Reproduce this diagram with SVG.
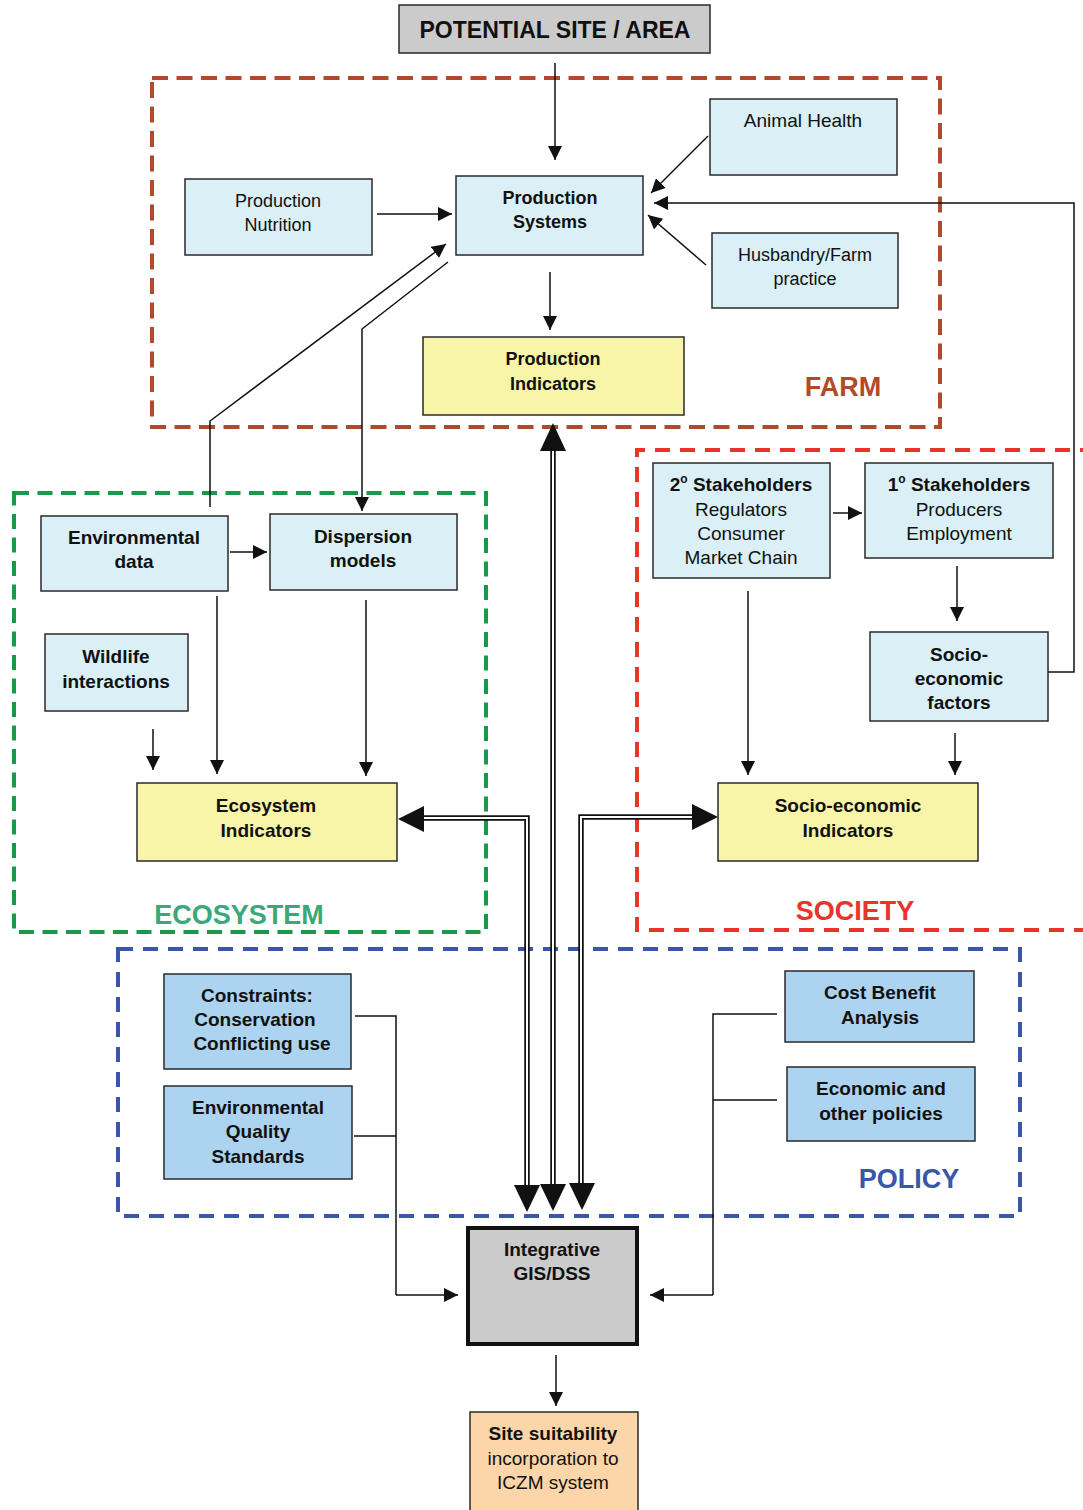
<svg xmlns="http://www.w3.org/2000/svg" width="1083" height="1510" viewBox="0 0 1083 1510">
<style>
text{font-family:"Liberation Sans",Arial,sans-serif;fill:#111;text-anchor:middle;font-size:19px}
.f18{font-size:18px}
.b{font-weight:bold}
.box{stroke:#2a2a2a;stroke-width:1.5}
.lb{fill:#daeff6}
.yl{fill:#f8f4a8}
.pb{fill:#acd3ef}
.ln{fill:none;stroke:#111;stroke-width:1.5}
.ar{fill:none;stroke:#111;stroke-width:1.5;marker-end:url(#ah)}
.dbo{fill:none;stroke:#111;stroke-width:5.5;stroke-linejoin:miter}
.dbi{fill:none;stroke:#fff;stroke-width:2}
.dash{fill:none;stroke-width:4}
.grp{font-weight:bold;font-size:27px}
</style>
<defs>
<marker id="ah" viewBox="0 0 10 10" refX="10" refY="5" markerWidth="14" markerHeight="14" markerUnits="userSpaceOnUse" orient="auto">
<path d="M0,0 L10,5 L0,10 z" fill="#111"/>
</marker>
</defs>

<!-- group borders -->
<g id="groups">
<rect class="dash" x="152" y="78" width="788" height="349" stroke="#b04a2a" stroke-dasharray="16,8.5"/>
<rect class="dash" x="14" y="493" width="472" height="439" stroke="#1a9a48" stroke-dasharray="15,8.5"/>
<path class="dash" d="M1095,450 H637 V930 H1095" stroke="#e8342a" stroke-dasharray="15,10"/>
<rect class="dash" x="118" y="949" width="902" height="267" stroke="#3a56a8" stroke-dasharray="15,10"/>
<text class="grp" x="843" y="396" style="fill:#b04a2a">FARM</text>
<text class="grp" x="239" y="924" style="fill:#3aa878">ECOSYSTEM</text>
<text class="grp" x="855" y="920" style="fill:#e8342a">SOCIETY</text>
<text class="grp" x="909" y="1188" style="fill:#3a56a8">POLICY</text>
</g>

<!-- connectors -->
<g id="connectors">
<line class="ar" x1="555" y1="63" x2="555" y2="160"/>
<line class="ar" x1="377" y1="214" x2="452" y2="214"/>
<line class="ar" x1="708" y1="136" x2="651" y2="193"/>
<line class="ar" x1="706" y1="265" x2="648" y2="215"/>
<path class="ar" d="M1048,672 H1074 V203 H654"/>
<line class="ar" x1="550" y1="272" x2="550" y2="330"/>
<path class="ar" d="M210,507 V421 L446,244"/>
<path class="ar" d="M448,262 L362,329 V511"/>
<line class="ar" x1="230" y1="552" x2="267" y2="552"/>
<line class="ar" x1="153" y1="729" x2="153" y2="770"/>
<line class="ar" x1="217" y1="596" x2="217" y2="774"/>
<line class="ar" x1="366" y1="600" x2="366" y2="776"/>
<line class="ar" x1="833" y1="513" x2="862" y2="513"/>
<line class="ar" x1="957" y1="566" x2="957" y2="621"/>
<line class="ar" x1="748" y1="591" x2="748" y2="775"/>
<line class="ar" x1="955" y1="733" x2="955" y2="775"/>
<path class="ln" d="M355,1016 H396 V1295"/>
<line class="ln" x1="354" y1="1136" x2="396" y2="1136"/>
<line class="ar" x1="396" y1="1295" x2="458" y2="1295"/>
<path class="ln" d="M777,1014 H713 V1295"/>
<line class="ln" x1="777" y1="1100" x2="713" y2="1100"/>
<line class="ar" x1="713" y1="1295" x2="650" y2="1295"/>
<line class="ar" x1="556" y1="1355" x2="556" y2="1406"/>
<!-- double-line arrows -->
<path class="dbo" d="M527,1188 V818 H421"/>
<path class="dbi" d="M527,1188 V818 H421"/>
<path class="dbo" d="M553,1188 V449"/>
<path class="dbi" d="M553,1188 V449"/>
<path class="dbo" d="M581,1188 V817 H694"/>
<path class="dbi" d="M581,1188 V817 H694"/>
<polygon points="398,819 424,806 424,832" fill="#111"/>
<polygon points="718,817 692,804 692,830" fill="#111"/>
<polygon points="553,423 540,451 566,451" fill="#111"/>
<polygon points="527,1212 514,1185 540,1185" fill="#111"/>
<polygon points="553,1211 540,1184 566,1184" fill="#111"/>
<polygon points="582,1210 569,1183 595,1183" fill="#111"/>
</g>

<g id="potential-site">
<rect class="box" x="399" y="5" width="311" height="48" fill="#cbcbcb"/>
<text class="b" x="555" y="38" style="font-size:23px">POTENTIAL SITE / AREA</text>
</g>
<g id="production-nutrition">
<rect class="box lb" x="185" y="179" width="187" height="76"/>
<text class="f18" x="278" y="207">Production</text><text class="f18" x="278" y="231">Nutrition</text>
</g>
<g id="production-systems">
<rect class="box lb" x="456" y="176" width="187" height="79"/>
<text class="b f18" x="550" y="204">Production</text><text class="b f18" x="550" y="228">Systems</text>
</g>
<g id="animal-health">
<rect class="box lb" x="710" y="99" width="187" height="76"/>
<text x="803" y="127">Animal Health</text>
</g>
<g id="husbandry">
<rect class="box lb" x="712" y="233" width="186" height="75"/>
<text class="f18" x="805" y="261">Husbandry/Farm</text><text class="f18" x="805" y="285">practice</text>
</g>
<g id="production-indicators">
<rect class="box yl" x="423" y="337" width="261" height="78"/>
<text class="b f18" x="553" y="365">Production</text><text class="b f18" x="553" y="390">Indicators</text>
</g>
<g id="environmental-data">
<rect class="box lb" x="41" y="516" width="187" height="75"/>
<text class="b" x="134" y="544">Environmental</text><text class="b" x="134" y="568">data</text>
</g>
<g id="dispersion-models">
<rect class="box lb" x="270" y="514" width="187" height="76"/>
<text class="b" x="363" y="543">Dispersion</text><text class="b" x="363" y="567">models</text>
</g>
<g id="wildlife">
<rect class="box lb" x="45" y="634" width="143" height="77"/>
<text class="b" x="116" y="663">Wildlife</text><text class="b" x="116" y="688">interactions</text>
</g>
<g id="ecosystem-indicators">
<rect class="box yl" x="137" y="783" width="260" height="78"/>
<text class="b" x="266" y="812">Ecosystem</text><text class="b" x="266" y="837">Indicators</text>
</g>
<g id="stakeholders-2">
<rect class="box lb" x="653" y="463" width="177" height="115"/>
<text x="741" y="491"><tspan class="b">2</tspan><tspan class="b" style="font-size:12px" dy="-8">o</tspan><tspan class="b" dy="8"> Stakeholders</tspan></text>
<text x="741" y="516">Regulators</text><text x="741" y="540">Consumer</text><text x="741" y="564">Market Chain</text>
</g>
<g id="stakeholders-1">
<rect class="box lb" x="865" y="463" width="188" height="95"/>
<text x="959" y="491"><tspan class="b">1</tspan><tspan class="b" style="font-size:12px" dy="-8">o</tspan><tspan class="b" dy="8"> Stakeholders</tspan></text>
<text x="959" y="516">Producers</text><text x="959" y="540">Employment</text>
</g>
<g id="socio-economic-factors">
<rect class="box lb" x="870" y="632" width="178" height="89"/>
<text class="b" x="959" y="661">Socio-</text><text class="b" x="959" y="685">economic</text><text class="b" x="959" y="709">factors</text>
</g>
<g id="socio-economic-indicators">
<rect class="box yl" x="718" y="783" width="260" height="78"/>
<text class="b" x="848" y="812">Socio-economic</text><text class="b" x="848" y="837">Indicators</text>
</g>
<g id="constraints">
<rect class="box pb" x="164" y="974" width="187" height="95"/>
<text class="b" x="257" y="1002">Constraints:</text><text class="b" x="255" y="1026">Conservation</text><text class="b" x="262" y="1050">Conflicting use</text>
</g>
<g id="eqs">
<rect class="box pb" x="164" y="1086" width="188" height="93"/>
<text class="b" x="258" y="1114">Environmental</text><text class="b" x="258" y="1138">Quality</text><text class="b" x="258" y="1163">Standards</text>
</g>
<g id="cost-benefit">
<rect class="box pb" x="785" y="971" width="189" height="71"/>
<text class="b" x="880" y="999">Cost Benefit</text><text class="b" x="880" y="1024">Analysis</text>
</g>
<g id="economic-policies">
<rect class="box pb" x="787" y="1067" width="188" height="74"/>
<text class="b" x="881" y="1095">Economic and</text><text class="b" x="881" y="1120">other policies</text>
</g>
<g id="gis-dss">
<rect x="468" y="1228" width="169" height="116" fill="#cbcbcb" stroke="#111" stroke-width="4"/>
<text class="b" x="552" y="1256">Integrative</text><text class="b" x="552" y="1280">GIS/DSS</text>
</g>
<g id="site-suitability">
<rect class="box" x="470" y="1412" width="168" height="105" fill="#fcd6a8"/>
<text class="b" x="553" y="1440">Site suitability</text><text x="553" y="1465">incorporation to</text><text x="553" y="1489">ICZM system</text>
</g>
</svg>
